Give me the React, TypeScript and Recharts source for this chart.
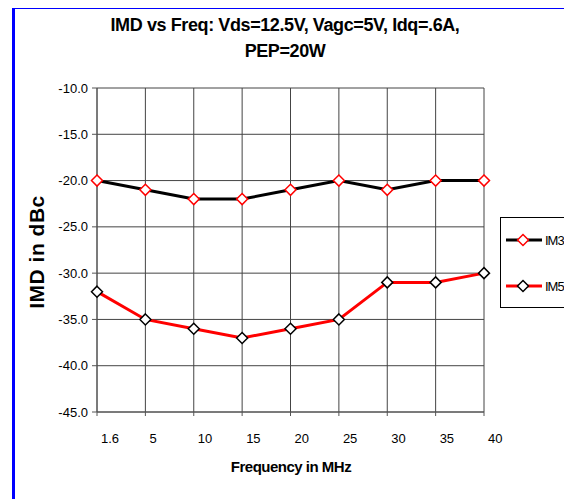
import { LineChart, Line, XAxis, YAxis, CartesianGrid, Legend } from 'recharts'

const categories = ['1.6', '5', '10', '15', '20', '25', '30', '35', '40']
const im3 = [-20, -21, -22, -22, -21, -20, -21, -20, -20]
const im5 = [-32, -35, -36, -37, -36, -35, -31, -31, -30]
const yTicks = [-10, -15, -20, -25, -30, -35, -40, -45]

const data = categories.map((freq, i) => ({ freq, IM3: im3[i], IM5: im5[i] }))

const FONT = '"Liberation Sans", Arial, sans-serif'

const diamond = (stroke: string) => (props: any) => {
	const { cx, cy, index } = props
	if (cx == null || cy == null) return <g key={index} />
	const r = 5.5
	return (
		<path
			key={index}
			d={`M${cx},${cy - r}L${cx + r},${cy}L${cx},${cy + r}L${cx - r},${cy}Z`}
			fill='#fff'
			stroke={stroke}
			strokeWidth={1.5}
		/>
	)
}

const XTick = ({ x, y, payload }: any) => (
	<text x={x + 4} y={y + 25} fontSize={13} fill='#000' fontFamily={FONT} textAnchor='start'>
		{payload.value}
	</text>
)

const legendItems = [
	{ name: 'IM3', line: '#000', marker: '#ff0000' },
	{ name: 'IM5', line: '#ff0000', marker: '#000' },
]

const renderLegend = () => (
	<svg width={90} height={92} style={{ display: 'block' }}>
		<rect x={0.5} y={0.5} width={120} height={90} fill='#fff' stroke='#000' />
		{legendItems.map((it, i) => {
			const cy = 23 + i * 46
			const r = 5.5
			return (
				<g key={it.name}>
					<line x1={6} x2={42} y1={cy} y2={cy} stroke={it.line} strokeWidth={3} />
					<path
						d={`M23,${cy - r}L${23 + r},${cy}L23,${cy + r}L${23 - r},${cy}Z`}
						fill='#fff'
						stroke={it.marker}
						strokeWidth={1.5}
					/>
					<text x={45} y={cy + 5} fontSize={13} fontFamily={FONT} letterSpacing={-1} fill='#000'>
						{it.name}
					</text>
				</g>
			)
		})}
	</svg>
)

export default function App() {
	return (
		<div
			style={{
				position: 'relative',
				width: 572,
				height: 499,
				margin: '-8px 0 0 -8px',
				overflow: 'hidden',
				background: '#fff',
				fontFamily: FONT,
			}}
		>
			<div
				style={{
					position: 'absolute',
					left: 12,
					top: 6,
					width: 700,
					height: 700,
					borderLeft: '3px solid #0000ff',
					borderTop: '3px solid #0000ff',
				}}
			/>
			<div style={{ position: 'absolute', left: 0, top: 0 }}>
				<LineChart
					width={572}
					height={499}
					data={data}
					margin={{ top: 88, right: 88, left: 0, bottom: 0 }}
				>
					<CartesianGrid stroke='#444' strokeWidth={1} />
					<XAxis
						dataKey='freq'
						scale='point'
						padding={{ left: 0, right: 0 }}
						height={87}
						stroke='#555'
						tickSize={4}
						tickMargin={2}
						tick={<XTick />}
						interval={0}
					/>
					<YAxis
						domain={[-45, -10]}
						ticks={yTicks}
						width={97}
						stroke='#555'
						tickSize={5}
						tickMargin={4}
						tick={{ fill: '#000', fontSize: 13, fontFamily: FONT }}
						tickFormatter={(v: number) => v.toFixed(1)}
						interval={0}
					/>
					<Line
						dataKey='IM3'
						stroke='#000'
						strokeWidth={3}
						dot={diamond('#ff0000')}
						isAnimationActive={false}
					/>
					<Line
						dataKey='IM5'
						stroke='#ff0000'
						strokeWidth={3}
						dot={diamond('#000')}
						isAnimationActive={false}
					/>
					<Legend
						layout='vertical'
						align='center'
						verticalAlign='middle'
						content={renderLegend}
						wrapperStyle={{ left: 500, top: 217, width: 90, height: 92 }}
					/>
				</LineChart>
			</div>
			<svg
				width={572}
				height={499}
				style={{ position: 'absolute', left: 0, top: 0, pointerEvents: 'none' }}
			>
				<text x={285} y={31} textAnchor='middle' fontSize={18} fontWeight='bold' letterSpacing={-0.4} fontFamily={FONT}>
					IMD vs Freq: Vds=12.5V, Vagc=5V, Idq=.6A,
				</text>
				<text x={285} y={57} textAnchor='middle' fontSize={18} fontWeight='bold' letterSpacing={-0.4} fontFamily={FONT}>
					PEP=20W
				</text>
				<text x={291} y={472} textAnchor='middle' fontSize={15} fontWeight='bold' letterSpacing={-0.5} fontFamily={FONT}>
					Frequency in MHz
				</text>
				<text
					x={0}
					y={0}
					transform='translate(44,252) rotate(-90)'
					textAnchor='middle'
					fontSize={21}
					fontWeight='bold'
					letterSpacing={0.5}
					fontFamily={FONT}
				>
					IMD in dBc
				</text>
			</svg>
		</div>
	)
}
